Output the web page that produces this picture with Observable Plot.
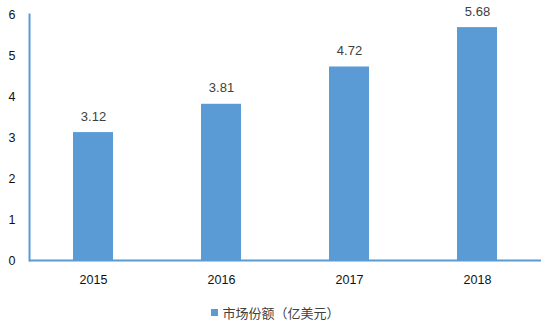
<!DOCTYPE html>
<html>
<head>
<meta charset="utf-8">
<script src="https://cdn.jsdelivr.net/npm/d3@7"></script>
<script src="https://cdn.jsdelivr.net/npm/@observablehq/plot@0.6"></script>
<style>
  html, body { margin: 0; padding: 0; background: #fff; }
  #chart { width: 543px; }
  .legend {
    height: 34px; display: flex; align-items: center; justify-content: center;
    font-family: "Noto Sans CJK SC", sans-serif; font-size: 13px; color: #404040;
    padding-left: 8px; box-sizing: border-box;
  }
  .legend .sw { width: 7px; height: 7px; background: #5b9bd5; margin-right: 4px; }
</style>
</head>
<body>
<div id="chart"></div>
<script>
// Market size by year (hundred-million USD)
const years = ["2015", "2016", "2017", "2018"];
const values = [3.12, 3.81, 4.72, 5.68];
const yTicks = [0, 1, 2, 3, 4, 5, 6];
const seriesName = "市场份额（亿美元）";

const blue = "#5b9bd5";
const data = years.map((year, i) => ({year, value: values[i]}));

const plot = Plot.plot({
  width: 543,
  height: 295,
  marginLeft: 29,
  marginRight: 2,
  marginTop: 14,
  marginBottom: 35,
  style: {fontFamily: "'Liberation Sans', Arial, sans-serif", fontSize: "12px", color: "#111", background: "#fff"},
  x: {domain: years, paddingInner: 0.69, paddingOuter: 0.345, label: null},
  y: {domain: [0, 6], label: null},
  marks: [
    Plot.barY(data, {x: "year", y: "value", fill: blue}),
    Plot.text(data, {x: "year", y: "value", text: d => d.value.toFixed(2), dy: -16,
      fontSize: 13, fill: "#404040"}),
    Plot.axisY({ticks: yTicks, tickFormat: d => String(d), tickSize: 0, tickPadding: 14, fontSize: 12.5}),
    Plot.axisX({tickSize: 0, tickPadding: 15, fontSize: 12.5}),
    Plot.ruleY([0], {stroke: blue, strokeWidth: 2}),
    Plot.frame({anchor: "left", stroke: blue, strokeWidth: 2})
  ]
});
document.getElementById("chart").appendChild(plot);

const legend = document.createElement("div");
legend.className = "legend";
legend.innerHTML = `<span class="sw"></span><span></span>`;
legend.lastChild.textContent = seriesName;
document.getElementById("chart").appendChild(legend);
</script>
</body>
</html>
